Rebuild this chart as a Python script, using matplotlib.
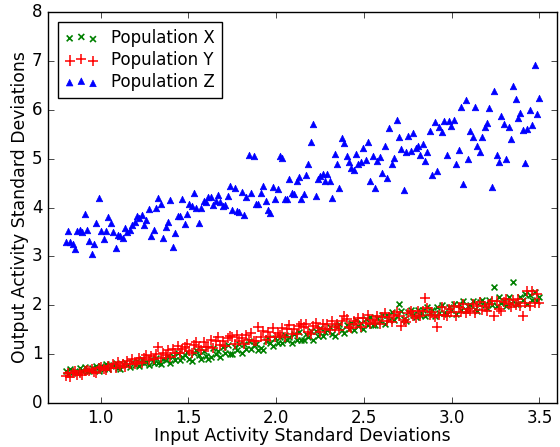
import matplotlib
matplotlib.use("Agg")
import matplotlib.pyplot as plt

plt.style.use("classic")

x_vals = [0.800, 0.814, 0.827, 0.841, 0.854, 0.868, 0.881, 0.895, 0.909, 0.922,
          0.936, 0.949, 0.963, 0.976, 0.990, 1.004, 1.017, 1.031, 1.044, 1.058,
          1.071, 1.085, 1.098, 1.112, 1.126, 1.139, 1.153, 1.166, 1.180, 1.193,
          1.207, 1.221, 1.234, 1.248, 1.261, 1.275, 1.288, 1.302, 1.316, 1.329,
          1.343, 1.356, 1.370, 1.383, 1.397, 1.411, 1.424, 1.438, 1.451, 1.465,
          1.478, 1.492, 1.506, 1.519, 1.533, 1.546, 1.560, 1.573, 1.587, 1.600,
          1.614, 1.628, 1.641, 1.655, 1.668, 1.682, 1.695, 1.709, 1.723, 1.736,
          1.750, 1.763, 1.777, 1.790, 1.804, 1.818, 1.831, 1.845, 1.858, 1.872,
          1.885, 1.899, 1.913, 1.926, 1.940, 1.953, 1.967, 1.980, 1.994, 2.008,
          2.021, 2.035, 2.048, 2.062, 2.075, 2.089, 2.103, 2.116, 2.130, 2.143,
          2.157, 2.170, 2.184, 2.198, 2.211, 2.225, 2.238, 2.252, 2.265, 2.279,
          2.292, 2.306, 2.320, 2.333, 2.347, 2.360, 2.374, 2.387, 2.401, 2.415,
          2.428, 2.442, 2.455, 2.469, 2.482, 2.496, 2.510, 2.523, 2.537, 2.550,
          2.564, 2.577, 2.591, 2.604, 2.618, 2.632, 2.645, 2.659, 2.672, 2.686,
          2.699, 2.713, 2.727, 2.740, 2.754, 2.767, 2.781, 2.794, 2.808, 2.822,
          2.835, 2.849, 2.862, 2.876, 2.889, 2.903, 2.917, 2.930, 2.944, 2.957,
          2.971, 2.984, 2.998, 3.011, 3.025, 3.039, 3.052, 3.066, 3.079, 3.093,
          3.106, 3.120, 3.134, 3.147, 3.161, 3.174, 3.188, 3.201, 3.215, 3.229,
          3.242, 3.256, 3.269, 3.283, 3.296, 3.310, 3.324, 3.337, 3.351, 3.364,
          3.378, 3.391, 3.405, 3.418, 3.432, 3.446, 3.459, 3.473, 3.486, 3.500]

pop_x = [0.66, 0.60, 0.69, 0.64, 0.66, 0.61, 0.71, 0.65, 0.74, 0.65,
         0.65, 0.72, 0.69, 0.76, 0.66, 0.76, 0.70, 0.79, 0.70, 0.75,
         0.77, 0.81, 0.72, 0.70, 0.80, 0.84, 0.77, 0.74, 0.83, 0.78,
         0.85, 0.76, 0.89, 0.81, 0.84, 0.77, 0.90, 0.82, 0.93, 0.81,
         0.80, 0.91, 0.87, 0.96, 0.81, 0.97, 0.88, 1.02, 0.88, 0.95,
         0.98, 1.05, 0.89, 0.85, 1.02, 1.08, 0.98, 0.91, 1.07, 0.97,
         0.91, 0.95, 1.13, 1.01, 1.07, 0.95, 1.14, 1.02, 1.18, 1.01,
         1.01, 1.15, 1.09, 1.21, 1.02, 1.21, 1.10, 1.27, 1.10, 1.18,
         1.21, 1.09, 1.13, 1.09, 1.27, 1.33, 1.23, 1.17, 1.33, 1.23,
         1.35, 1.22, 1.40, 1.28, 1.34, 1.23, 1.41, 1.29, 1.46, 1.29,
         1.28, 1.42, 1.36, 1.48, 1.29, 1.48, 1.37, 1.54, 1.37, 1.45,
         1.49, 1.56, 1.41, 1.37, 1.55, 1.61, 1.50, 1.44, 1.60, 1.51,
         1.63, 1.50, 1.69, 1.57, 1.63, 1.52, 1.71, 1.59, 1.76, 1.59,
         1.59, 1.73, 1.68, 1.80, 1.61, 1.80, 1.69, 1.86, 1.69, 1.77,
         2.02, 1.88, 1.72, 1.68, 1.86, 1.91, 1.81, 1.75, 1.90, 1.80,
         1.91, 1.78, 1.96, 1.84, 1.90, 1.78, 1.97, 1.84, 2.01, 1.84,
         1.83, 1.97, 1.91, 2.03, 1.83, 2.02, 1.91, 2.08, 1.90, 1.98,
         2.01, 2.08, 1.92, 1.88, 2.06, 2.11, 2.01, 1.95, 2.10, 2.00,
         2.37, 1.98, 2.16, 2.04, 2.09, 1.98, 2.16, 2.04, 2.47, 2.03,
         2.02, 2.16, 2.10, 2.22, 2.02, 2.21, 2.10, 2.27, 2.09, 2.17]

pop_y = [0.55, 0.62, 0.53, 0.61, 0.66, 0.57, 0.62, 0.58, 0.65, 0.68,
         0.66, 0.70, 0.63, 0.61, 0.71, 0.74, 0.70, 0.67, 0.76, 0.72,
         0.79, 0.71, 0.83, 0.76, 0.80, 0.74, 0.86, 0.79, 0.90, 0.80,
         0.83, 0.93, 0.81, 0.93, 0.99, 0.88, 0.96, 0.89, 1.00, 1.14,
         0.92, 1.03, 0.99, 1.09, 0.95, 1.11, 1.03, 1.17, 1.03, 1.11,
         1.14, 1.21, 1.06, 1.02, 1.19, 1.25, 1.15, 1.09, 1.25, 1.15,
         1.15, 1.29, 1.12, 1.26, 1.34, 1.18, 1.27, 1.16, 1.32, 1.37,
         1.34, 1.21, 1.39, 1.27, 1.33, 1.21, 1.40, 1.28, 1.44, 1.27,
         1.26, 1.55, 1.35, 1.47, 1.28, 1.46, 1.36, 1.53, 1.36, 1.44,
         1.39, 1.53, 1.36, 1.51, 1.59, 1.42, 1.51, 1.41, 1.57, 1.62,
         1.55, 1.61, 1.46, 1.41, 1.58, 1.64, 1.53, 1.46, 1.62, 1.51,
         1.62, 1.49, 1.67, 1.55, 1.61, 1.49, 1.68, 1.78, 1.72, 1.55,
         1.54, 1.68, 1.62, 1.74, 1.55, 1.73, 1.63, 1.80, 1.62, 1.70,
         1.65, 1.79, 1.61, 1.76, 1.84, 1.67, 1.76, 1.66, 1.81, 1.86,
         1.79, 1.58, 1.70, 1.66, 1.84, 1.89, 1.79, 1.73, 1.88, 1.78,
         1.89, 2.15, 1.94, 1.81, 1.87, 1.75, 1.55, 1.81, 1.97, 1.80,
         1.78, 1.92, 1.86, 1.98, 1.78, 1.97, 1.86, 2.03, 1.85, 1.93,
         1.88, 2.02, 1.84, 1.99, 2.06, 1.90, 1.98, 1.88, 2.03, 2.08,
         1.79, 2.09, 1.93, 1.89, 2.07, 2.12, 2.02, 1.96, 2.11, 2.01,
         2.12, 1.99, 1.79, 2.05, 2.29, 1.99, 2.29, 2.05, 2.22, 2.05]

pop_z = [3.30, 3.52, 3.30, 3.25, 3.15, 3.52, 3.55, 3.49, 3.86, 3.55,
         3.32, 3.04, 3.25, 3.69, 4.20, 3.52, 3.35, 3.51, 3.81, 3.68,
         3.49, 3.18, 3.44, 3.42, 3.37, 3.59, 3.50, 3.55, 3.64, 3.70,
         3.83, 3.79, 3.84, 3.64, 3.75, 3.97, 3.42, 3.53, 3.98, 4.20,
         4.07, 3.37, 3.60, 3.70, 4.16, 3.20, 3.48, 3.82, 3.82, 4.17,
         3.66, 3.87, 4.08, 4.03, 4.29, 4.00, 3.68, 4.00, 4.14, 4.12,
         4.21, 4.21, 4.05, 4.14, 4.25,
         4.12, 4.03, 4.05, 4.24, 4.44, 3.94, 4.40, 3.93, 3.90, 4.31,
         3.85, 4.21, 5.08, 4.29, 5.06, 4.08, 4.07, 4.30, 4.45, 4.13,
         3.95, 3.89, 4.42, 4.18, 4.37, 5.05, 5.01, 4.17, 4.18, 4.58,
         4.29, 4.28, 4.54, 4.62, 4.17, 4.27, 4.66, 4.90, 5.35, 5.70,
         4.23, 4.58, 4.64, 4.69, 4.54, 4.68, 4.54, 4.20, 5.10, 4.90,
         4.40, 5.42, 5.32, 5.05, 4.93, 4.80, 4.76, 5.10, 4.90, 4.94,
         5.22, 4.97, 5.35, 4.55, 5.06, 4.40, 4.96, 5.03,
         4.71, 5.25, 4.61, 5.62, 4.89, 5.01, 5.80, 5.45, 5.19, 4.36,
         5.14, 5.46, 5.15, 5.53, 5.21, 5.25, 5.08, 5.29, 4.96, 5.14,
         5.56, 4.66, 5.76, 4.75, 5.65, 5.54, 5.78, 5.08, 5.78, 5.66,
         5.80, 4.90, 5.17, 6.06, 4.48, 6.20, 5.00, 5.56, 5.45, 6.06,
         5.25, 5.14, 5.45, 5.64, 5.73, 6.04, 4.43, 6.39, 5.07, 4.94,
         5.87, 5.71, 5.00, 5.64, 5.41, 6.48, 6.23, 5.84, 5.93, 5.58,
         4.92, 5.61, 6.00, 5.68, 6.91, 5.91, 6.24]

labels = ["Population X", "Population Y", "Population Z"]
x_ticks = [1.0, 1.5, 2.0, 2.5, 3.0, 3.5]
y_ticks = [0, 1, 2, 3, 4, 5, 6, 7, 8]

fig = plt.figure(figsize=(5.6, 4.47), dpi=100, facecolor="white")
ax = fig.add_axes([0.0857, 0.0985, 0.9089, 0.8745])

ax.scatter(x_vals, pop_x, marker="x", c="green", edgecolors="green", s=18, linewidths=1.2, label=labels[0])
ax.scatter(x_vals, pop_y, marker="+", c="red", edgecolors="red", s=55, linewidths=1.1, label=labels[1])
ax.scatter(x_vals, pop_z, marker="^", c="blue", edgecolors="blue", s=22, linewidths=0.5, label=labels[2])

ax.set_xlim(0.7, 3.6)
ax.set_ylim(0, 8)
ax.set_xticks(x_ticks)
ax.set_yticks(y_ticks)
ax.tick_params(labelsize=12)
ax.set_xlabel("Input Activity Standard Deviations", fontsize=12.4, labelpad=0)
ax.set_ylabel("Output Activity Standard Deviations", fontsize=12.4, labelpad=2)
ax.legend(loc="upper left", scatterpoints=3, fontsize=12, frameon=True,
          labelspacing=0.25, borderaxespad=0.6)

fig.savefig("out.png", dpi=100, facecolor="white")
